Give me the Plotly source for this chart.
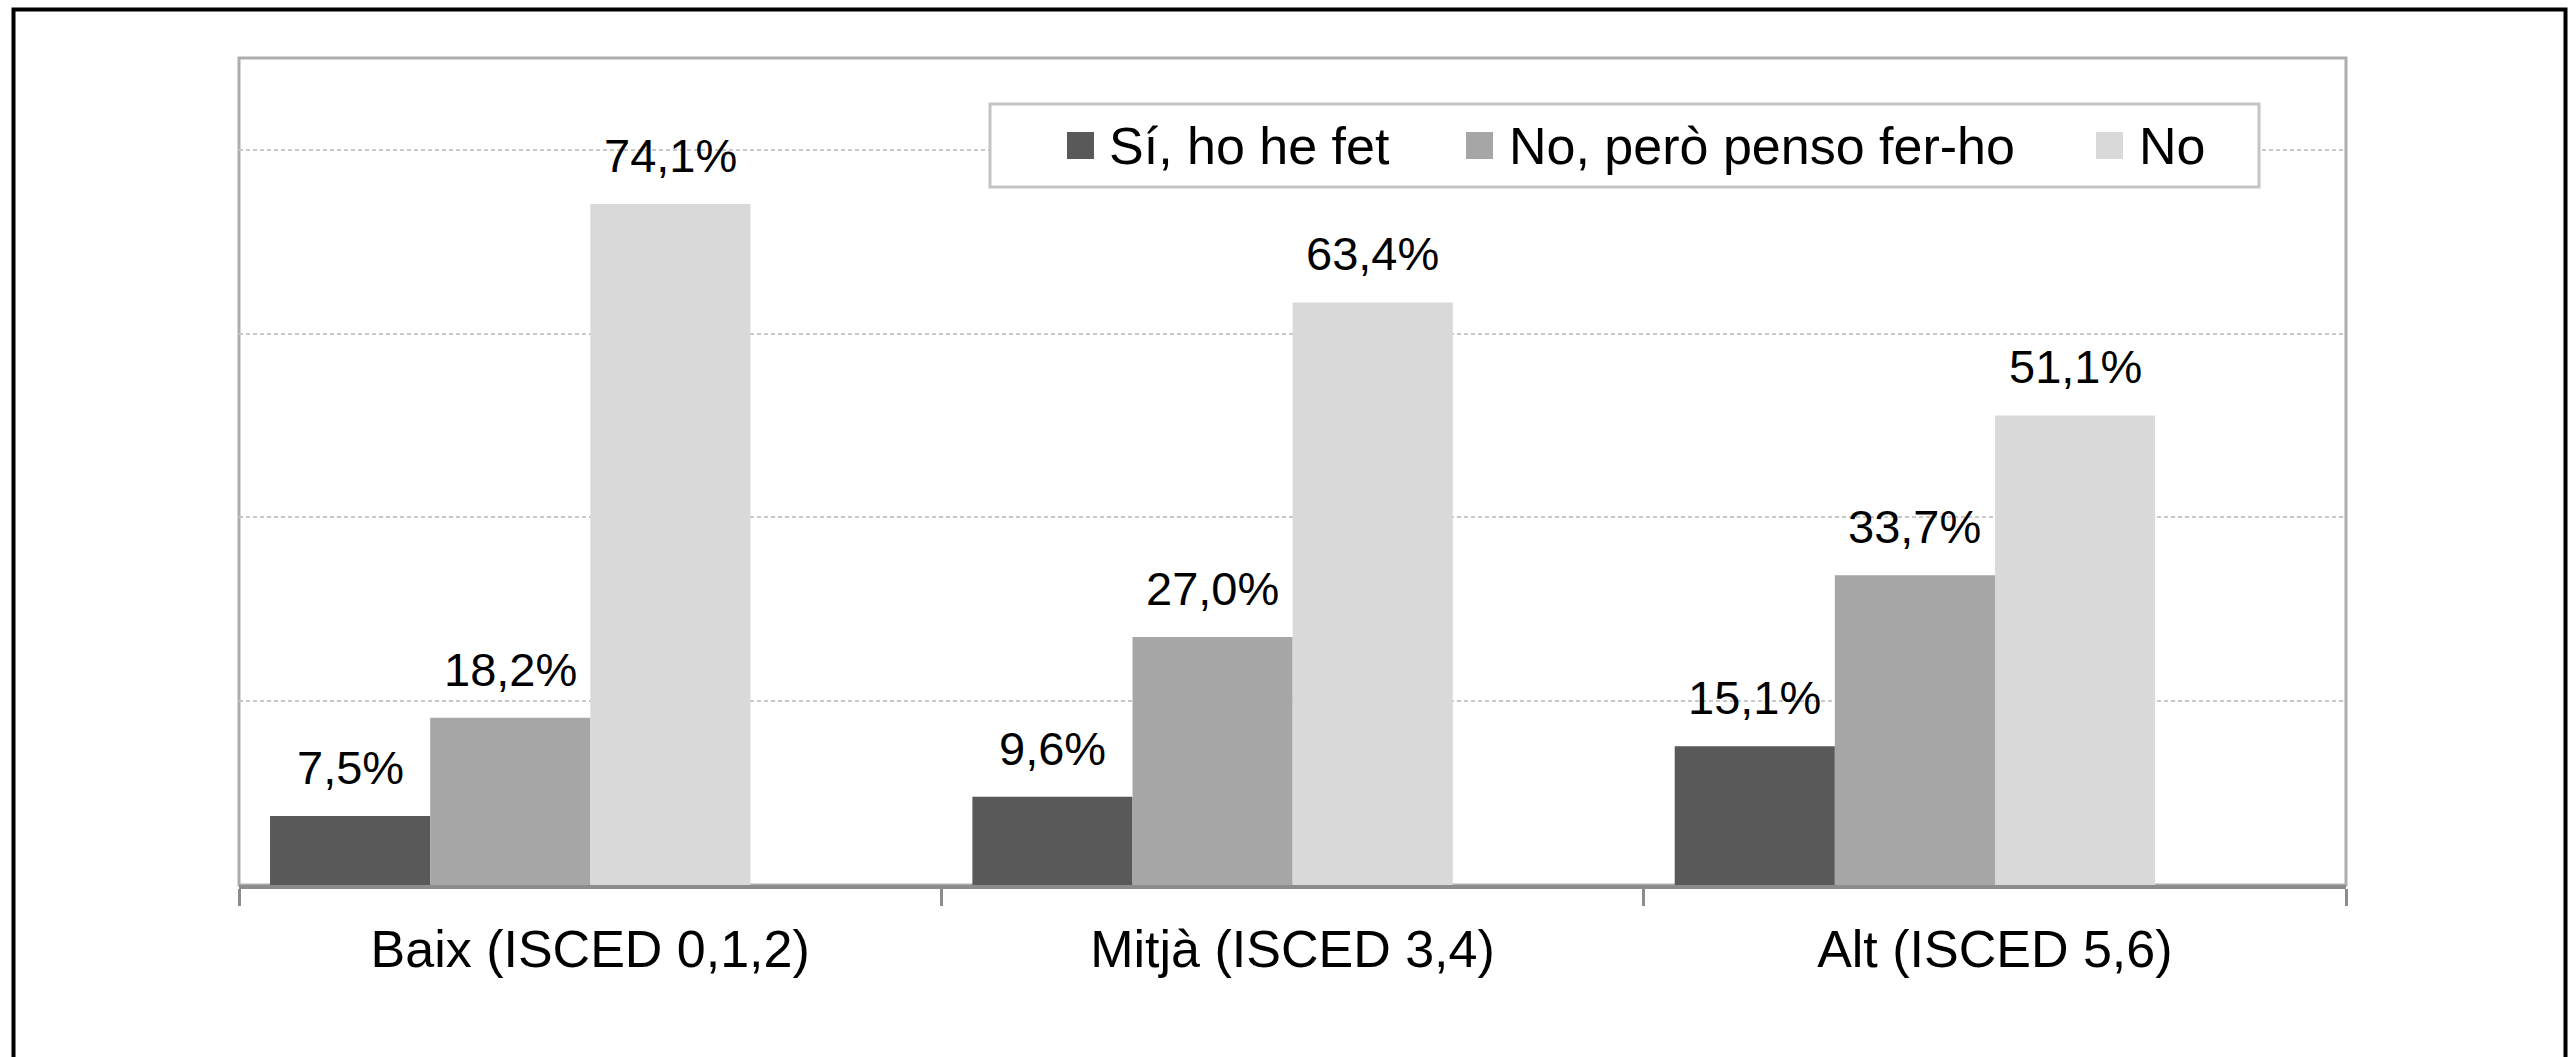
import plotly.graph_objects as go

# ---- data ----
categories = ["Baix (ISCED 0,1,2)", "Mitjà (ISCED 3,4)", "Alt (ISCED 5,6)"]
series_names = ["Sí, ho he fet", "No, però penso fer-ho", "No"]
si_ho_he_fet = [7.5, 9.6, 15.1]
no_pero_penso = [18.2, 27.0, 33.7]
no_values = [74.1, 63.4, 51.1]
series_values = [si_ho_he_fet, no_pero_penso, no_values]
colors = ["#595959", "#a6a6a6", "#d9d9d9"]

# ---- layout geometry (pixels) ----
W, H = 2574, 1057
L, R, T, B = 239, 2346, 58, 885  # plot area edges
FONT = "Liberation Sans, Arial, sans-serif"


def px(x):
    return (x - L) / (R - L)


def py(y):
    return (B - y) / (B - T)


bar_w = 0.228
offsets = [-0.4558, -0.2278, 0.0002]

fig = go.Figure()
for name, vals, col, off in zip(series_names, series_values, colors, offsets):
    fig.add_trace(go.Bar(
        x=categories, y=vals, name=name,
        marker=dict(color=col, line=dict(width=0)),
        width=bar_w, offset=off, showlegend=False,
    ))

annotations = []
for vals, off in zip(series_values, offsets):
    for i, v in enumerate(vals):
        annotations.append(dict(
            x=i + off + bar_w / 2, y=v, xref="x", yref="y",
            text=f"{v:.1f}".replace(".", ",") + "%",
            showarrow=False, yanchor="bottom", xanchor="center",
            yshift=20, font=dict(family=FONT, size=47, color="black"),
        ))

shapes = [
    # outer black frame
    dict(type="rect", xref="paper", yref="paper",
         x0=px(13.5), x1=px(2565.5), y0=py(1070), y1=py(9.5),
         line=dict(color="black", width=4), fillcolor="rgba(0,0,0,0)", layer="above"),
    # plot border
    dict(type="rect", xref="paper", yref="paper", x0=0, x1=1, y0=0, y1=1,
         line=dict(color="#adadad", width=3), fillcolor="rgba(0,0,0,0)", layer="below"),
    # legend box
    dict(type="rect", xref="paper", yref="paper",
         x0=px(990), x1=px(2259), y0=py(187), y1=py(104),
         line=dict(color="#c4c4c4", width=3), fillcolor="white", layer="above"),
]

legend_swatch_x = [1067, 1466, 2096]
legend_text_x = [1107, 1507, 2137]
for name, col, sx, tx in zip(series_names, colors, legend_swatch_x, legend_text_x):
    shapes.append(dict(type="rect", xref="paper", yref="paper",
                       x0=px(sx), x1=px(sx + 27), y0=py(159), y1=py(132),
                       line=dict(width=0), fillcolor=col, layer="above"))
    annotations.append(dict(x=px(tx), y=py(146), xref="paper", yref="paper",
                            text=name, showarrow=False, xanchor="left", yanchor="middle",
                            font=dict(family=FONT, size=52, color="black")))

fig.update_layout(
    width=W, height=H,
    margin=dict(l=L, r=W - R, t=T, b=H - B, pad=0),
    paper_bgcolor="white", plot_bgcolor="white",
    barmode="overlay",
    showlegend=False,
    font=dict(family=FONT, color="black"),
    shapes=shapes, annotations=annotations,
    xaxis=dict(
        type="category", tickson="boundaries",
        showline=True, linecolor="#8c8c8c", linewidth=4,
        ticks="outside", ticklen=17, tickwidth=3, tickcolor="#8c8c8c",
        tickfont=dict(family=FONT, size=52, color="black"),
        ticklabelstandoff=16,
        showgrid=False, zeroline=False, range=[-0.5, 2.5],
    ),
    yaxis=dict(
        range=[0, 90], dtick=20, showticklabels=False, ticks="",
        showgrid=True, gridcolor="#c8c8c8", gridwidth=2, griddash="4px,3px",
        zeroline=False, showline=False,
    ),
)

fig.write_html(
    "out.html",
    config={"displayModeBar": False},
    post_script="document.body.style.margin='0';document.body.style.overflow='hidden';",
)
